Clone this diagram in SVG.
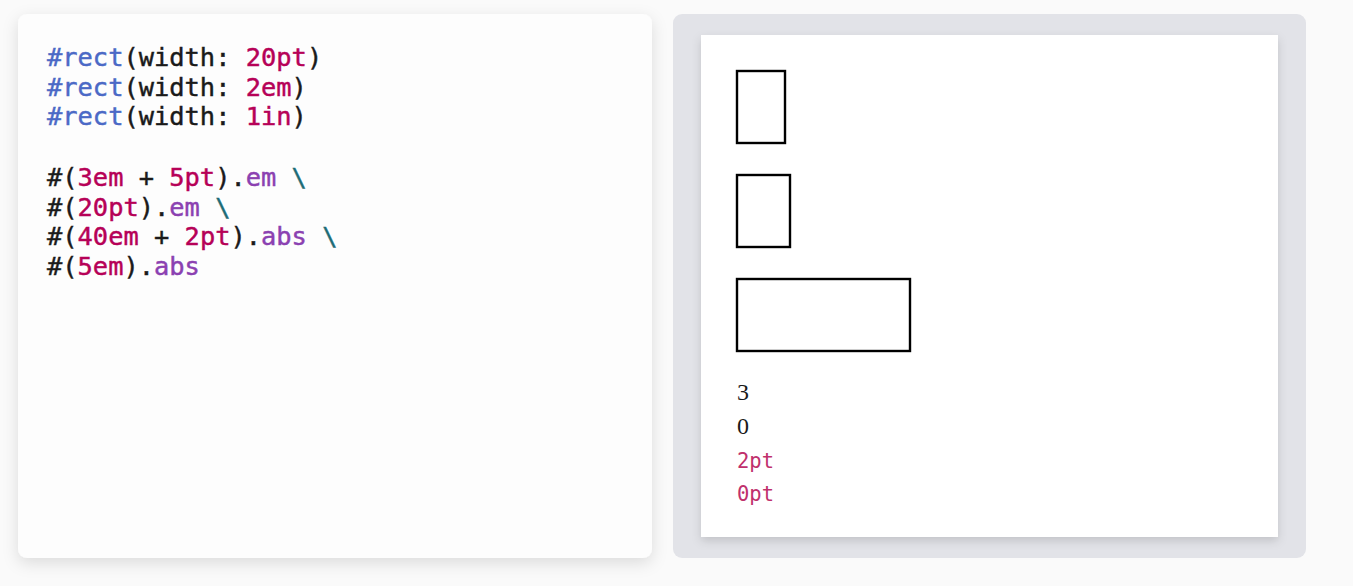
<svg xmlns="http://www.w3.org/2000/svg" width="1353" height="586" viewBox="0 0 1353 586">
<defs>
<filter id="sh" x="-10%" y="-10%" width="120%" height="125%">
<feDropShadow dx="0" dy="5" stdDeviation="8" flood-color="#000" flood-opacity="0.12"/>
</filter>
<filter id="sh2" x="-10%" y="-10%" width="120%" height="125%">
<feDropShadow dx="0" dy="4" stdDeviation="5" flood-color="#000" flood-opacity="0.14"/>
</filter>
</defs>
<style>
.code{font-family:"DejaVu Sans Mono","Liberation Mono",monospace;font-size:25.4px;fill:#1a1a1a;stroke:#1a1a1a;stroke-width:0.45}
.f{fill:#4b69c6;stroke:#4b69c6}.n{fill:#b60157;stroke:#b60157}.m{fill:#8b41b1;stroke:#8b41b1}.e{fill:#1d6c76;stroke:#1d6c76}
.box{fill:none;stroke:#000;stroke-width:2.4}
.ser{font-family:"Liberation Serif",serif;font-size:24px;fill:#1a1a1a}
.raw{font-family:"DejaVu Sans Mono","Liberation Mono",monospace;font-size:20.5px;fill:#c0306c}
</style>
<rect width="1353" height="586" fill="#fafafa"/>
<g id="code-panel">
<rect x="18" y="14" width="634" height="544" rx="9" fill="#fdfdfd" filter="url(#sh)"/>
<text class="code" x="47" y="66"><tspan class="f">#rect</tspan>(width: <tspan class="n">20pt</tspan>)</text>
<text class="code" x="47" y="95.5"><tspan class="f">#rect</tspan>(width: <tspan class="n">2em</tspan>)</text>
<text class="code" x="47" y="125"><tspan class="f">#rect</tspan>(width: <tspan class="n">1in</tspan>)</text>
<text class="code" x="47" y="186">#(<tspan class="n">3em</tspan> + <tspan class="n">5pt</tspan>).<tspan class="m">em</tspan> <tspan class="e">\</tspan></text>
<text class="code" x="47" y="215.5">#(<tspan class="n">20pt</tspan>).<tspan class="m">em</tspan> <tspan class="e">\</tspan></text>
<text class="code" x="47" y="245">#(<tspan class="n">40em</tspan> + <tspan class="n">2pt</tspan>).<tspan class="m">abs</tspan> <tspan class="e">\</tspan></text>
<text class="code" x="47" y="274.5">#(<tspan class="n">5em</tspan>).<tspan class="m">abs</tspan></text>
</g>
<g id="preview-panel">
<rect x="673" y="14" width="633" height="544" rx="9" fill="#e2e3e8"/>
<rect x="701" y="35" width="577" height="502" fill="#ffffff" filter="url(#sh2)"/>
<rect class="box" x="737" y="71" width="48" height="72"/>
<rect class="box" x="737" y="175" width="53" height="72"/>
<rect class="box" x="737" y="279" width="173" height="72"/>
<text class="ser" x="737" y="400">3</text>
<text class="ser" x="737" y="434">0</text>
<text class="raw" x="737" y="468">2pt</text>
<text class="raw" x="737" y="501">0pt</text>
</g>
</svg>
